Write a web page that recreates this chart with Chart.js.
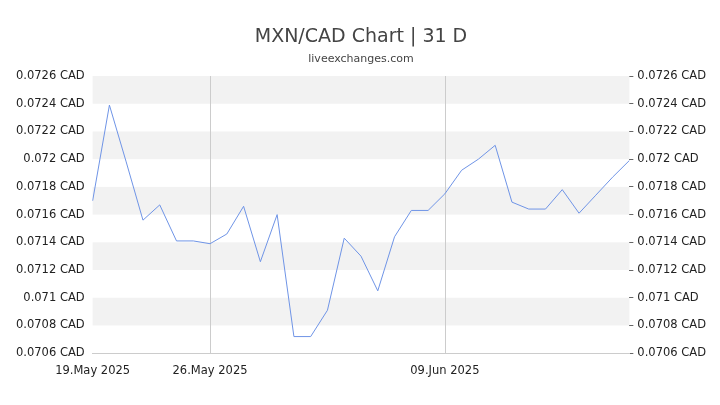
<!DOCTYPE html><html><head><script src="https://cdn.jsdelivr.net/npm/chart.js@4"></script>
<style>body{margin:0;background:#fff}#w{width:720px;height:405px}</style></head><body><div id="w"><canvas id="c"></canvas></div>
<script>
const dates=["19.May","20.May","21.May","22.May","23.May","24.May","25.May","26.May","27.May","28.May","29.May","30.May","31.May","01.Jun","02.Jun","03.Jun","04.Jun","05.Jun","06.Jun","07.Jun","08.Jun","09.Jun","10.Jun","11.Jun","12.Jun","13.Jun","14.Jun","15.Jun","16.Jun","17.Jun","18.Jun","19.Jun","20.Jun"];
const tickLabels={0:"19.May 2025",7:"26.May 2025",21:"09.Jun 2025"};
const rates=[0.07170,0.07239,0.07198,0.07156,0.07167,0.07141,0.07141,0.07139,0.07146,0.07166,0.07126,0.07160,0.07072,0.07072,0.07091,0.07143,0.07130,0.07105,0.07144,0.07163,0.07163,0.07175,0.07192,0.07200,0.07210,0.07169,0.07164,0.07164,0.07178,0.07161,0.07174,0.07187,0.07199];
const bands={id:'bands',beforeDatasetsDraw(ch){const y=ch.scales.y,a=ch.chartArea,c=ch.ctx;c.save();c.fillStyle='#f2f2f2';for(let v=0.0724;v>0.0705;v-=0.0004){const t=y.getPixelForValue(v+0.0002),b=y.getPixelForValue(v);c.fillRect(a.left,t,a.right-a.left,b-t);}
const x=ch.scales.x;c.strokeStyle='#ccc';c.lineWidth=1;[7,21].forEach(i=>{const p=Math.round(x.getPixelForValue(i))+0.5;c.beginPath();c.moveTo(p,a.top);c.lineTo(p,a.bottom);c.stroke();});c.restore();}};
const fmt=v=>parseFloat(v.toFixed(4))+" CAD";
const yax=(pos,tk)=>({position:pos,min:0.0706,max:0.0726,afterBuildTicks(s){s.ticks=[];for(let i=0;i<=10;i++)s.ticks.push({value:+(0.0706+i*0.0002).toFixed(4)});},ticks:{callback:fmt,color:'#222',font:{size:11.5,family:'DejaVu Sans'},padding:4},grid:{display:tk,drawOnChartArea:false,drawTicks:true,tickLength:4,color:'#666'},border:{display:false}});
new Chart(document.getElementById('c'),{type:'line',data:{labels:dates,datasets:[{data:rates,borderColor:'#6f94e6',borderWidth:1,pointRadius:0,tension:0,fill:false}]},
options:{responsive:true,maintainAspectRatio:false,animation:false,layout:{padding:{left:12,right:10,top:0,bottom:24}},
plugins:{legend:{display:false},tooltip:{enabled:false},title:{display:true,text:'MXN/CAD Chart | 31 D',color:'#444',font:{size:19,family:'DejaVu Sans',weight:'normal'},padding:{top:26,bottom:4}},subtitle:{display:true,text:'liveexchanges.com',color:'#444',font:{size:11,family:'DejaVu Sans'},padding:{bottom:10}}},
scales:{x:{offset:false,ticks:{autoSkip:false,maxRotation:0,color:'#222',font:{size:11.5,family:'DejaVu Sans'},callback:(v,i)=>tickLabels[i]||''},grid:{display:false},border:{color:'#ccc'}},
y:yax('left',false),y2:yax('right',true)}},plugins:[bands]});
</script></body></html>
